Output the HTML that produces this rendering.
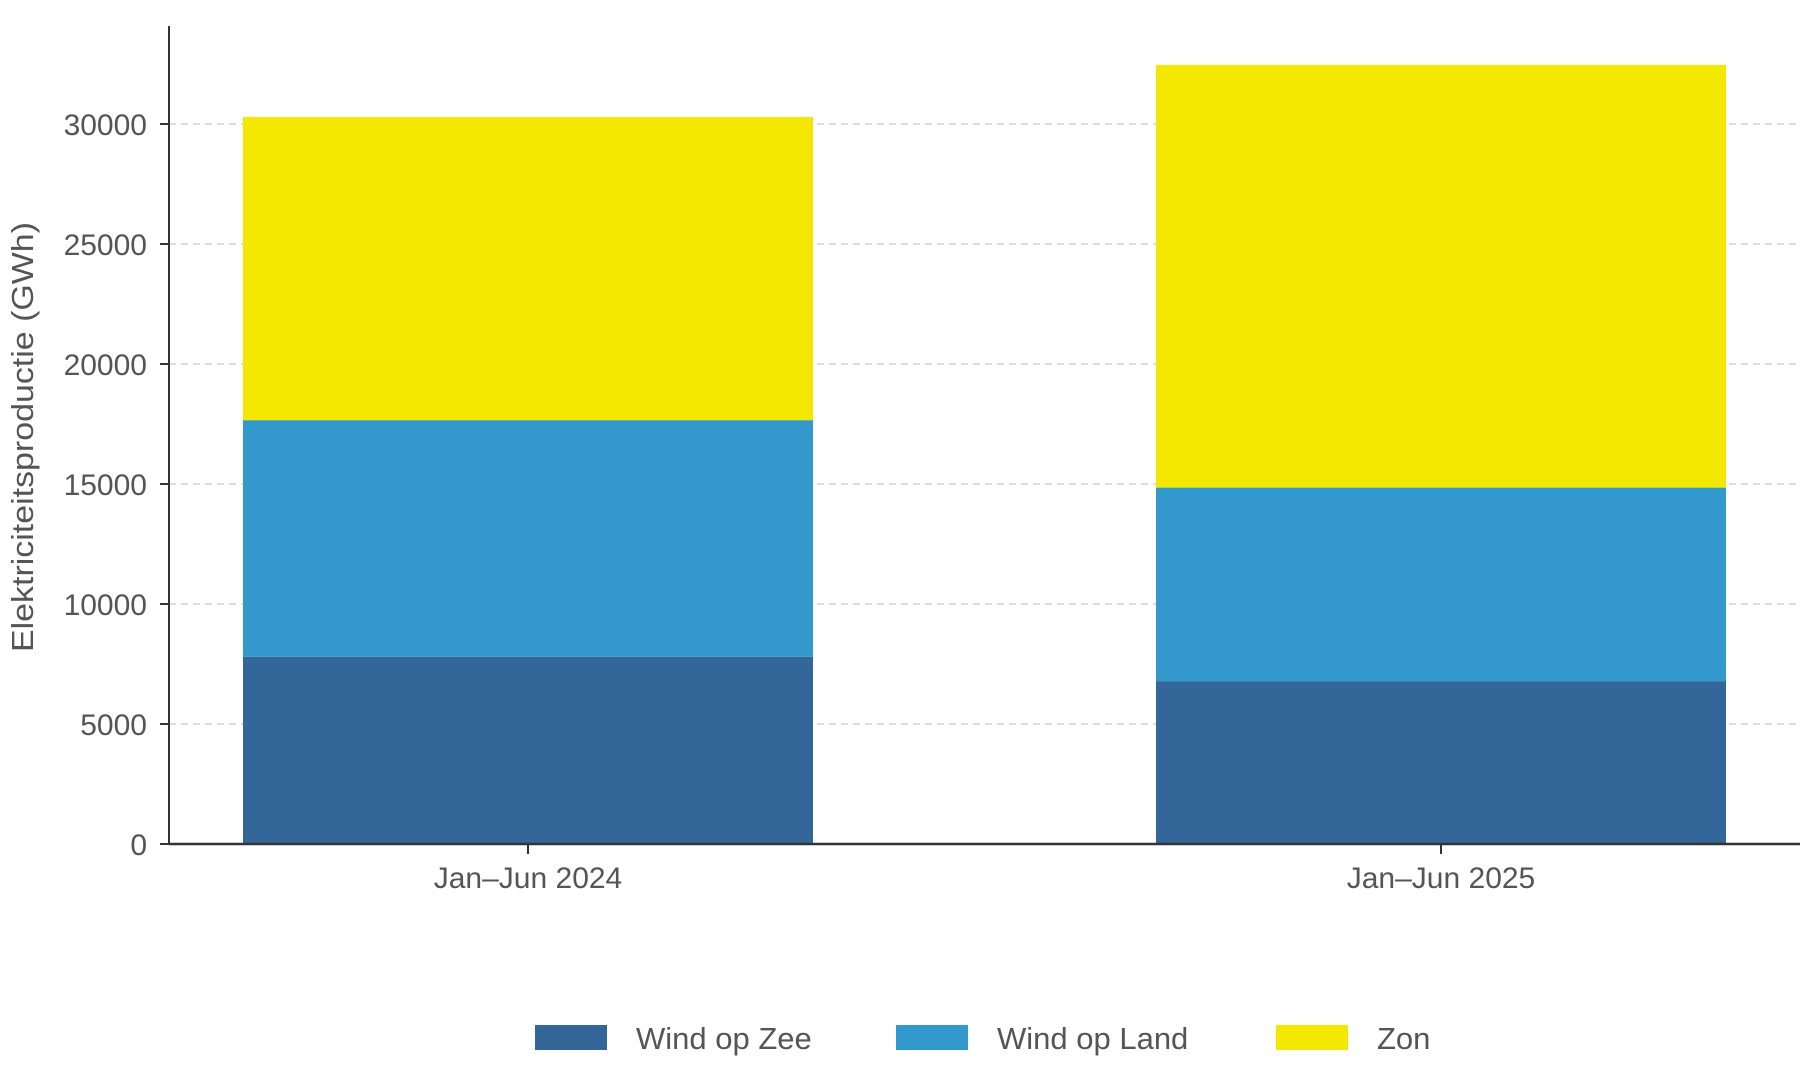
<!DOCTYPE html>
<html><head><meta charset="utf-8"><style>
body{margin:0;background:#fff;}
svg text{font-family:"Liberation Sans",sans-serif;fill:#555;}
</style></head><body>
<svg width="1813" height="1066" xmlns="http://www.w3.org/2000/svg">
<g id="grid"></g>
<g id="bars"></g>
<g id="axes"></g>
<text transform="translate(33,437) rotate(-90)" text-anchor="middle" font-size="31" textLength="430" lengthAdjust="spacingAndGlyphs">Elektriciteitsproductie (GWh)</text>
<g>
<rect x="535" y="1025" width="72" height="25" fill="#336699"/>
<text x="636" y="1049" font-size="31">Wind op Zee</text>
<rect x="896" y="1025" width="72" height="25" fill="#3399cc"/>
<text x="997" y="1049" font-size="31">Wind op Land</text>
<rect x="1276" y="1025" width="72" height="25" fill="#f5e800"/>
<text x="1377" y="1049" font-size="31">Zon</text>
</g>
</svg>
<script>
const categories=["Jan–Jun 2024","Jan–Jun 2025"];
const windZee=[7800,6770];
const windLand=[9860,8080];
const zon=[12630,17610];
const yTicks=[0,5000,10000,15000,20000,25000,30000];
const seriesNames=["wind-op-zee","wind-op-land","zon"];
const colors=["#336699","#3399cc","#f5e800"];
const NS="http://www.w3.org/2000/svg";
const x0=169,x1=1800,y0=844,pxPer=120/5000;
const y=v=>y0-v*pxPer;
const bandW=913, firstOffset=359;
const barW=570;
const cx=i=>x0+firstOffset+bandW*i;
function mk(tag,attrs,parent){const e=document.createElementNS(NS,tag);for(const k in attrs)e.setAttribute(k,attrs[k]);parent.appendChild(e);return e;}
const grid=document.getElementById('grid'),bars=document.getElementById('bars'),axes=document.getElementById('axes');
yTicks.forEach(t=>{
  if(t>0){const g=mk('line',{x1:x0,x2:x1,y1:y(t),y2:y(t),stroke:'#dddddd','stroke-width':2,'stroke-dasharray':'7,5'},grid);
  
  }
  const tk=mk('line',{x1:x0-9,x2:x0,y1:y(t),y2:y(t),stroke:'#333','stroke-width':2},axes);
  
  
  const tl=mk('text',{x:x0-22,y:y(t)+11,'text-anchor':'end','font-size':30},axes);
  tl.textContent=t;
  
  
});
const series=[windZee,windLand,zon];
categories.forEach((c,i)=>{
  let base=0;
  series.forEach((s,j)=>{
    const r=mk('rect',{x:cx(i)-barW/2,y:y(base+s[i]),width:barW,height:s[i]*pxPer,fill:colors[j]},bars);
    
    
    base+=s[i];
  });
  const tk=mk('line',{x1:cx(i),x2:cx(i),y1:y0,y2:y0+10,stroke:'#333','stroke-width':2},axes);
  
  
  const tl=mk('text',{x:cx(i),y:y0+44,'text-anchor':'middle','font-size':30},axes);
  tl.textContent=c;
  
  
});
const ya=mk('line',{x1:x0,x2:x0,y1:26,y2:y0,stroke:'#333','stroke-width':2},axes);


const xa=mk('line',{x1:x0,x2:x1,y1:y0,y2:y0,stroke:'#333','stroke-width':2.5},axes);


</script>
</body></html>
